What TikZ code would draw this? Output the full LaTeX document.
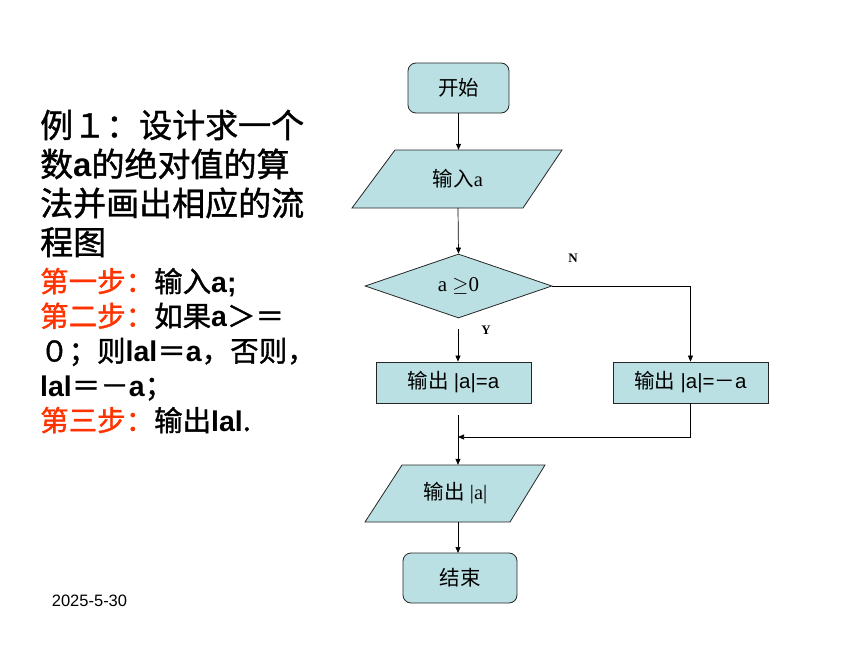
\documentclass[tikz,border=0pt]{standalone}
\usepackage{fontspec}
\setmainfont{Liberation Serif}
\newfontfamily\cjk{Noto Sans CJK SC}
\newfontfamily\cjkb[FakeBold=1.2]{Noto Sans CJK SC}
\newfontfamily\arial{Liberation Sans}
\usetikzlibrary{shapes.geometric,arrows.meta}
\definecolor{boxfill}{HTML}{BBE0E3}
\definecolor{stepred}{HTML}{FF3300}
\newcommand\latb[1]{{\arial\bfseries #1}}
\begin{document}
\begin{tikzpicture}[x=1pt,y=-1pt,
  flow/.style={draw=black!85,fill=boxfill,line width=0.8pt},
  term/.style={flow,rounded corners=8pt,minimum height=50pt,inner sep=0pt,font=\fontsize{20.5}{24}\selectfont},
  proc/.style={flow,minimum width=155pt,minimum height=41pt,inner sep=0pt,font=\fontsize{20.5}{24}\selectfont},
  dec/.style={flow,diamond,aspect=3,inner sep=0pt,minimum width=187pt,minimum height=64pt,font=\fontsize{21}{24}\selectfont},
  io/.style={inner sep=0pt,font=\fontsize{20.5}{24}\selectfont},
  arr/.style={draw=black,line width=0.7pt,-{Triangle[length=6pt,width=5pt]}},
  big/.style={anchor=base west,inner sep=0pt,font=\cjkb\fontsize{33}{39}\selectfont},
  mid/.style={anchor=base west,inner sep=0pt,font=\cjkb\fontsize{28.5}{34}\selectfont},
  yn/.style={inner sep=0pt,font=\fontsize{13}{15}\selectfont\bfseries}
]
\useasboundingbox (0,0) rectangle (860,645);
% left text
\node[big] (t1) at (40,137.5) {例１：设计求一个};
\node[big] (t2) at (40,176.5) {数\latb{a}的绝对值的算};
\node[big] (t3) at (40,215.5) {法并画出相应的流};
\node[big] (t4) at (40,254.5) {程图};
\node[mid] (s1) at (40,292) {\textcolor{stepred}{第一步：}输入\latb{a;}};
\node[mid] (s2) at (40,326.7) {\textcolor{stepred}{第二步：}如果\latb{a}＞＝};
\node[mid] (s3) at (40,361.5) {０；则\latb{lal}＝\latb{a}，否则，};
\node[mid] (s4) at (40,396) {\latb{lal}＝－\latb{a}；};
\node[mid] (s5) at (40,431) {\textcolor{stepred}{第三步：}输出\latb{lal}.};
\node[anchor=center,inner sep=0pt,font=\arial\fontsize{16.5}{19}\selectfont] (date) at (89.5,601) {2025-5-30};
% flowchart
\node[term,minimum width=101pt] (start) at (458.5,88) {\cjk 开始};
\path[flow] (395,150) -- (562,150) -- (523,208) -- (352,208) -- cycle;
\node[io,minimum width=120pt,minimum height=58pt] (inp) at (458,179) {{\cjk 输入}a};
\node[dec] (dc) at (458.5,286) {a $\geq$0};
\node[yn] (nlab) at (573,258) {N};
\node[yn] (ylab) at (486,330) {Y};
\node[proc] (lbox) at (453.5,382.5) {{\cjk 输出} {\arial |a|=a}};
\node[proc] (rbox) at (690.5,382.5) {{\cjk 输出} {\arial |a|=}{\cjk －}{\arial a}};
\path[flow] (402,465) -- (545,465) -- (510,522) -- (365,522) -- cycle;
\node[io,minimum width=110pt,minimum height=57pt] (out) at (455.5,493.5) {{\cjk 输出} |a|};
\node[term,minimum width=114pt] (end) at (460,578) {\cjk 结束};
\coordinate (ystart) at (458,329);
\coordinate (lstart) at (458,415);
\coordinate (merge) at (458,437);
% connectors
\draw[arr] (start.south) -- (start.south |- inp.north);
\draw[arr] (458,208) coordinate (inpb) -- (dc.north);
\draw[arr] (dc.east) -| (rbox.north);
\draw[arr] (ystart) -- (ystart |- lbox.north);
\draw[arr] (lstart) -- (lstart |- out.north);
\draw[arr] (rbox.south) |- (merge);
\draw[arr] (458,522) coordinate (outb) -- (458,553) coordinate (endt);
\end{tikzpicture}
\end{document}
